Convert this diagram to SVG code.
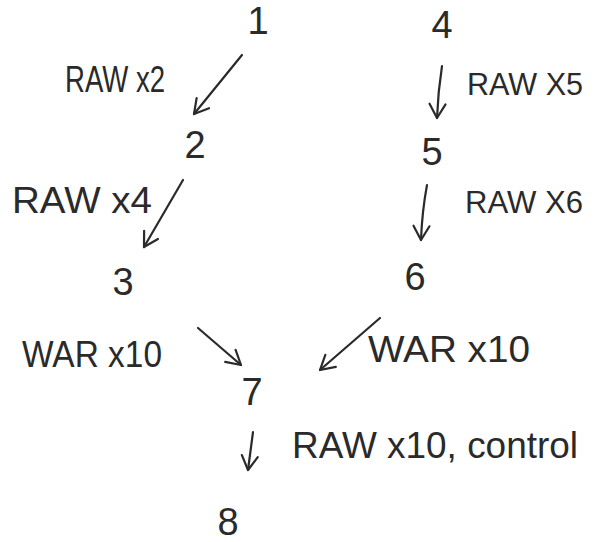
<svg xmlns="http://www.w3.org/2000/svg" width="593" height="542" viewBox="0 0 593 542">
<defs>
<style>
.n{font-family:"Liberation Sans",Arial,sans-serif;font-size:38px;fill:#2a2a2a;text-anchor:middle}
.l{font-family:"Liberation Sans",Arial,sans-serif;font-size:36px;fill:#2a2a2a}
.c{fill:none;stroke:#2a2a2a;stroke-width:2.2;stroke-linecap:round}
</style>
<marker id="ah" viewBox="-16 -10 18 20" markerWidth="18" markerHeight="20" refX="0" refY="0" orient="auto" markerUnits="userSpaceOnUse">
<path d="M-14,-8 L0,0 L-14,8" fill="none" stroke="#2a2a2a" stroke-width="2.2" stroke-linecap="round" stroke-linejoin="round"/>
</marker>
</defs>
<rect width="593" height="542" fill="#fff"/>
<g id="node1"><text class="n" x="258" y="34">1</text></g>
<g id="node2"><text class="n" x="195" y="158">2</text></g>
<g id="node3"><text class="n" x="123" y="295">3</text></g>
<g id="node4"><text class="n" x="442" y="38">4</text></g>
<g id="node5"><text class="n" x="432" y="165">5</text></g>
<g id="node6"><text class="n" x="415" y="290">6</text></g>
<g id="node7"><text class="n" x="252" y="405">7</text></g>
<g id="node8"><text class="n" x="228" y="535">8</text></g>
<g id="connectors">
<path class="c" d="M242,55 L194,114" marker-end="url(#ah)"/>
<path class="c" d="M183,180 L144,247" marker-end="url(#ah)"/>
<path class="c" d="M442,66 Q438,92 437,118" marker-end="url(#ah)"/>
<path class="c" d="M427,185 Q422,212 421,240" marker-end="url(#ah)"/>
<path class="c" d="M198,328 L241,365" marker-end="url(#ah)"/>
<path class="c" d="M380,318 L320,370" marker-end="url(#ah)"/>
<path class="c" d="M253,432 L248,470" marker-end="url(#ah)"/>
</g>
<g id="labels">
<text class="l" x="65" y="92" font-size="30" textLength="100" lengthAdjust="spacingAndGlyphs">RAW x2</text>
<text class="l" x="12" y="213" textLength="140" lengthAdjust="spacingAndGlyphs">RAW x4</text>
<text class="l" x="467" y="95" style="font-size:32px" textLength="116" lengthAdjust="spacingAndGlyphs">RAW X5</text>
<text class="l" x="465" y="213" style="font-size:32px" textLength="118" lengthAdjust="spacingAndGlyphs">RAW X6</text>
<text class="l" x="22" y="367" textLength="140" lengthAdjust="spacingAndGlyphs">WAR x10</text>
<text class="l" x="368" y="362" textLength="162" lengthAdjust="spacingAndGlyphs">WAR x10</text>
<text class="l" x="292" y="458" textLength="286" lengthAdjust="spacingAndGlyphs">RAW x10, control</text>
</g>
</svg>
